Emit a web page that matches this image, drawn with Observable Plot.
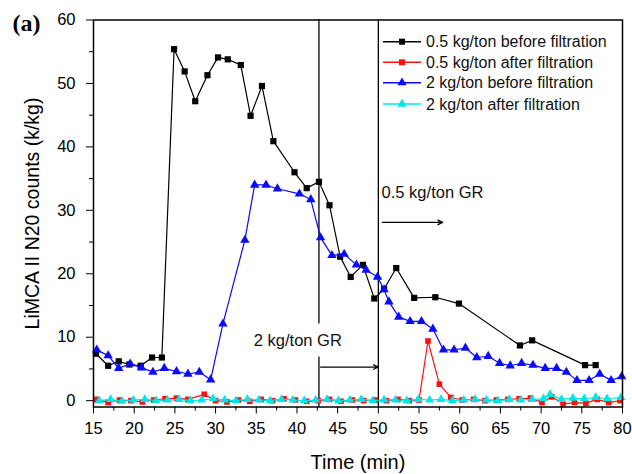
<!DOCTYPE html>
<html>
<head>
<meta charset="utf-8">
<script src="https://cdn.jsdelivr.net/npm/d3@7"></script>
<script src="https://cdn.jsdelivr.net/npm/@observablehq/plot@0.6"></script>
<style>
  body { margin: 0; background: white; }
</style>
</head>
<body>
<div id="chart"></div>
<script>
// ---- data ----
const blackT = [15.3,16.8,18.1,19.4,20.8,22.2,23.4,24.9,26.2,27.5,29.0,30.3,31.5,33.1,34.3,35.7,37.1,39.7,41.2,42.7,44.0,45.3,46.6,48.1,49.5,50.7,52.2,54.4,57.0,59.9,67.4,68.9,75.4,76.7];
const blackV = [7.4,5.5,6.2,5.7,5.5,6.8,6.8,55.4,51.9,47.2,51.3,54.1,53.8,52.9,44.9,49.6,40.9,36.0,33.5,34.5,30.8,22.7,19.5,21.4,16.1,17.6,20.9,16.2,16.3,15.3,8.7,9.5,5.6,5.6];

const blueT = [15.4,16.8,18.1,19.5,20.9,22.3,23.7,25.2,26.6,28.0,29.4,30.9,33.6,34.8,36.2,37.6,40.3,41.7,42.9,44.3,45.8,47.3,48.5,49.9,50.7,51.3,52.5,53.9,55.3,56.7,58.0,59.3,60.7,62.1,63.5,64.9,66.2,67.6,69.0,70.5,71.9,73.1,74.4,75.9,77.2,78.6,79.9];
const blueV = [8.0,7.1,5.1,5.8,5.2,4.5,5.1,4.6,4.2,4.5,3.3,12.1,25.3,34.0,34.0,33.4,32.6,31.7,25.7,22.9,23.1,21.4,20.6,19.5,17.5,15.6,13.2,12.5,12.5,11.3,8.0,8.0,8.3,6.8,7.0,5.9,5.5,5.9,5.6,5.1,5.1,4.5,3.2,3.2,4.2,3.2,3.8];

const redT = [15.4,16.8,18.2,19.6,21.0,22.4,23.8,25.2,26.6,28.6,30.0,31.4,32.8,34.2,35.6,37.0,38.4,39.8,41.2,42.6,44.0,45.4,46.8,48.2,49.6,51.0,52.4,53.8,55.0,56.1,57.5,58.9,60.3,61.7,63.1,64.5,65.9,67.3,68.7,70.1,71.3,72.7,74.1,75.5,76.9,78.3,79.7];
const redV = [0.2,-0.3,0.1,0.0,-0.2,0.1,0.3,0.4,0.2,1.0,0.0,-0.2,0.1,-0.1,0.2,0.0,0.3,0.1,-0.1,0.0,0.2,-0.1,0.1,0.0,0.1,0.0,0.2,0.0,0.1,9.4,2.6,0.5,0.1,0.2,0.0,0.1,0.2,0.3,0.4,-0.3,0.6,-0.5,-0.3,-0.4,0.2,-0.3,0.0];

const cyanT = [15.7,17.1,18.5,19.9,21.3,22.7,24.1,25.5,26.9,28.3,29.7,31.1,32.5,33.9,35.3,36.7,38.1,39.5,40.9,42.3,43.7,45.1,46.5,47.9,49.3,50.7,52.1,53.5,54.9,56.3,57.7,59.1,60.5,61.9,63.3,64.7,66.1,67.5,68.9,70.3,71.1,72.5,73.9,75.3,76.7,78.1,79.8];
const cyanV = [0.0,0.2,-0.1,0.1,0.2,0.0,0.1,0.2,0.0,0.1,0.3,0.1,0.0,0.2,0.1,0.0,0.2,0.1,0.0,0.1,0.2,0.0,0.1,0.2,0.0,0.1,0.1,0.0,0.2,0.1,0.2,0.0,0.1,0.2,0.1,0.0,0.2,0.1,0.2,0.3,1.0,0.2,0.4,0.3,0.5,0.3,0.5];

const seriesNames = ["0.5 kg/ton before filtration","0.5 kg/ton after filtration","2 kg/ton before filtration","2 kg/ton after filtration"];
const seriesColors = ["#000000","#ff1010","#0a0aff","#00e6e6"];
const seriesSymbols = ["square","square","triangle","triangle"];

const xTicks = [15,20,25,30,35,40,45,50,55,60,65,70,75,80];
const xMinor = [17.5,22.5,27.5,32.5,37.5,42.5,47.5,52.5,57.5,62.5,67.5,72.5,77.5];
const yTicks = [0,10,20,30,40,50,60];
const yMinor = [5,15,25,35,45,55];

// GR addition times and annotations
const grTimes = [42.7, 50.0];
const grLabel2 = [{x: 34.7, y: 9.5, text: "2 kg/ton GR"}];
const grLabel05 = [{x: 50.4, y: 32.7, text: "0.5 kg/ton GR"}];
const grArrows = [
  {x1: 42.9, x2: 50.0, y: 5.3},
  {x1: 50.5, x2: 57.9, y: 28.1}
];

const toRows = (T, V) => T.map((t, i) => ({t, v: V[i]}));
const blackData = toRows(blackT, blackV);
const redData = toRows(redT, redV);
const blueData = toRows(blueT, blueV);
const cyanData = toRows(cyanT, cyanV);

const lw = 1.2;
const fs = 16.5;
const plot = Plot.plot({
  width: 632,
  height: 474,
  marginLeft: 93,
  marginRight: 10,
  marginTop: 19.5,
  marginBottom: 67.5,
  x: {domain: [15, 80]},
  y: {domain: [-1, 60]},
  style: {fontFamily: "Arial, 'Liberation Sans', sans-serif", fontSize: "16px", color: "black", background: "white"},
  marks: [
    Plot.ruleX(grTimes, {y1: -1, y2: 60, stroke: "black", strokeWidth: 1.3}),
    Plot.text(grLabel2, {x: "x", y: "y", text: "text", textAnchor: "start", fontSize: fs, fill: "#111", stroke: "white", strokeWidth: 22}),
    Plot.text(grLabel05, {x: "x", y: "y", text: "text", textAnchor: "start", fontSize: fs, fill: "#111"}),
    Plot.arrow(grArrows, {x1: "x1", x2: "x2", y1: "y", y2: "y", stroke: "black", strokeWidth: 1.3, headLength: 6, headAngle: 50}),
    Plot.line(redData, {x: "t", y: "v", stroke: seriesColors[1], strokeWidth: lw}),
    Plot.dot(redData, {x: "t", y: "v", symbol: "square", r: 3.2, fill: seriesColors[1]}),
    Plot.line(cyanData, {x: "t", y: "v", stroke: seriesColors[3], strokeWidth: lw}),
    Plot.dot(cyanData, {x: "t", y: "v", symbol: "triangle", r: 3.3, fill: seriesColors[3]}),
    Plot.line(blackData, {x: "t", y: "v", stroke: seriesColors[0], strokeWidth: lw}),
    Plot.dot(blackData, {x: "t", y: "v", symbol: "square", r: 3.5, fill: seriesColors[0]}),
    Plot.line(blueData, {x: "t", y: "v", stroke: seriesColors[2], strokeWidth: lw}),
    Plot.dot(blueData, {x: "t", y: "v", symbol: "triangle", r: 3.5, fill: seriesColors[2]}),
    Plot.axisX({ticks: xTicks, tickSize: 7, tickPadding: 8, fontSize: fs, label: null}),
    Plot.axisX({ticks: xMinor, tickSize: 4, tickFormat: () => "", label: null}),
    Plot.axisY({ticks: yTicks, tickSize: 7, tickPadding: 11, fontSize: fs, label: null}),
    Plot.axisY({ticks: yMinor, tickSize: 4, tickFormat: () => "", label: null}),
    Plot.frame({stroke: "black", strokeWidth: 1.5}),
    Plot.text(["Time (min)"], {frameAnchor: "bottom", lineAnchor: "middle", dy: 56, fontSize: 20}),
    Plot.text(["LiMCA II N20 counts (k/kg)"], {frameAnchor: "left", textAnchor: "middle", lineAnchor: "middle", rotate: -90, dx: -61, fontSize: 19.5}),
    Plot.text(["(a)"], {frameAnchor: "top-left", textAnchor: "start", lineAnchor: "middle", dx: -81, dy: 3.5, fontSize: 24, fontWeight: "bold", fontFamily: "Liberation Serif, DejaVu Serif, serif"})
  ]
});

// legend (inside the plot, top right)
const svg = d3.select(plot);
const lg = svg.append("g").attr("font-family", "Arial, 'Liberation Sans', sans-serif").attr("font-size", 16).attr("text-anchor", "start");
const rowY = [41.7, 62.3, 82.7, 104];
seriesNames.forEach((name, i) => {
  const y = rowY[i];
  lg.append("line").attr("x1", 383).attr("x2", 421).attr("y1", y).attr("y2", y)
    .attr("stroke", seriesColors[i]).attr("stroke-width", 1.5);
  const sym = seriesSymbols[i] === "square" ? d3.symbolSquare : d3.symbolTriangle;
  lg.append("path").attr("d", d3.symbol(sym, Math.PI * 3.4 * 3.4)())
    .attr("transform", `translate(402,${y})`).attr("fill", seriesColors[i]);
  lg.append("text").attr("x", 426).attr("y", y).attr("dy", "0.35em").attr("fill", "#111").text(name);
});

document.getElementById("chart").appendChild(plot);
</script>
</body>
</html>
